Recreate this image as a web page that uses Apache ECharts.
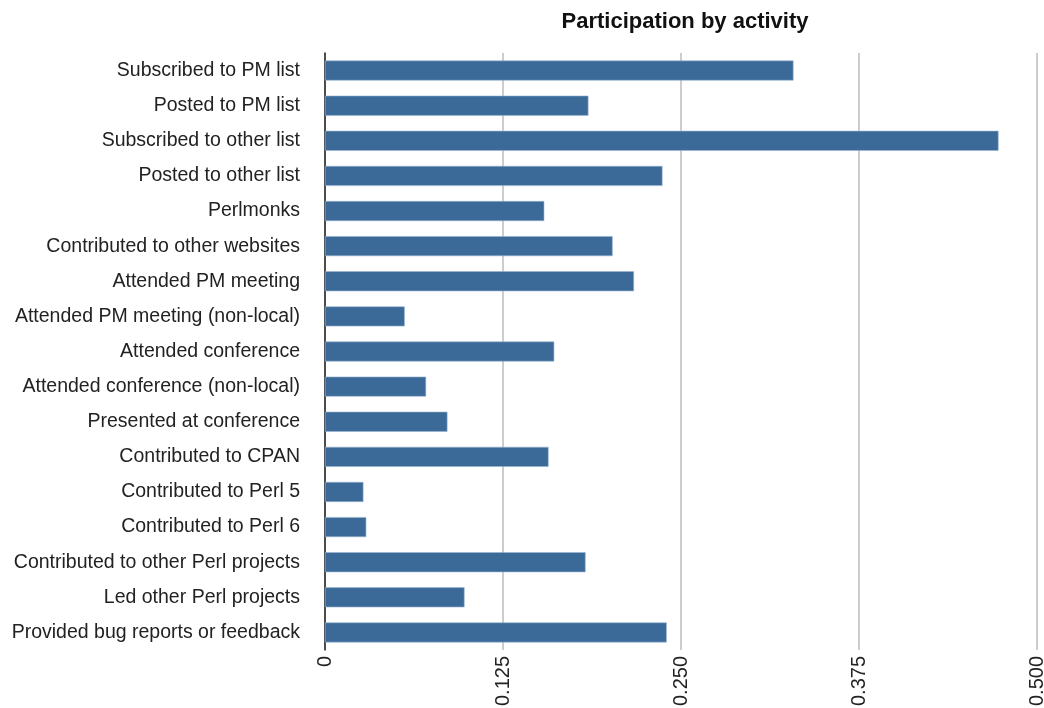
<!DOCTYPE html>
<html>
<head>
<meta charset="utf-8">
<script src="https://cdn.jsdelivr.net/npm/echarts@6/dist/echarts.min.js"></script>
<style>html,body{margin:0;padding:0;background:#fff;}#c{width:1044px;height:708px;}</style>
</head>
<body>
<div id="c"></div>
<script>
const categories = [
  "Subscribed to PM list",
  "Posted to PM list",
  "Subscribed to other list",
  "Posted to other list",
  "Perlmonks",
  "Contributed to other websites",
  "Attended PM meeting",
  "Attended PM meeting (non-local)",
  "Attended conference",
  "Attended conference (non-local)",
  "Presented at conference",
  "Contributed to CPAN",
  "Contributed to Perl 5",
  "Contributed to Perl 6",
  "Contributed to other Perl projects",
  "Led other Perl projects",
  "Provided bug reports or feedback"
];
const values = [0.329, 0.185, 0.473, 0.237, 0.154, 0.202, 0.217, 0.056, 0.161, 0.071, 0.086, 0.157, 0.027, 0.029, 0.183, 0.098, 0.240];
const tickLabels = ["0", "0.125", "0.250", "0.375", "0.500"];

const chart = echarts.init(document.getElementById('c'));
const font = "Liberation Sans, Arial, Helvetica, sans-serif";
chart.setOption({
  animation: false,
  title: {
    text: "Participation by activity",
    left: 680, top: 6, textAlign: 'center',
    textStyle: {fontFamily: font, fontSize: 22, fontWeight: 'bold', color: '#111'}
  },
  grid: {left: 325, right: 7, top: 53, bottom: 58, containLabel: false, outerBoundsMode: 'none'},
  xAxis: {
    type: 'value', min: 0, max: 0.5, interval: 0.125,
    axisLine: {show: false},
    axisTick: {show: false},
    splitLine: {show: true, lineStyle: {color: '#bdbdbd', width: 1.5}},
    axisLabel: {
      rotate: 90, margin: 6, fontFamily: font, fontSize: 20, color: '#222',
      formatter: function (v) { return tickLabels[Math.round(v / 0.125)]; }
    }
  },
  yAxis: {
    type: 'category', data: categories, inverse: true,
    axisLine: {show: true, lineStyle: {color: '#222', width: 1.5}},
    axisTick: {show: false},
    axisLabel: {margin: 25, fontFamily: font, fontSize: 19.5, color: '#222'}
  },
  series: [{
    type: 'bar', data: values, barCategoryGap: '43%',
    itemStyle: {color: '#3b6a99', borderColor: '#9ab5d2', borderWidth: 0.6}
  }]
});
</script>
</body>
</html>
